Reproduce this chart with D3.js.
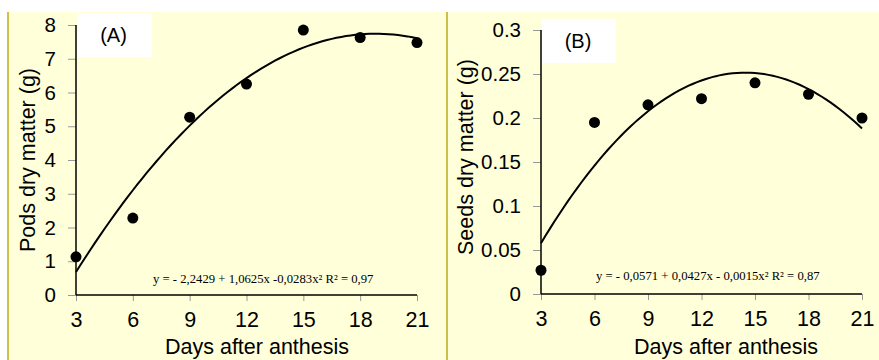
<!DOCTYPE html>
<html>
<head>
<meta charset="utf-8">
<script src="https://cdn.jsdelivr.net/npm/d3@7"></script>
<style>
  body { margin: 0; background: #fff; }
  svg { display: block; }
  .tick text { font-family: "Liberation Sans", Arial, sans-serif; }
</style>
</head>
<body>
<svg id="graph" width="879" height="360"></svg>
<script>
// data
var days = [3, 6, 9, 12, 15, 18, 21]
var podsDry = [1.13, 2.28, 5.27, 6.25, 7.85, 7.63, 7.48]
var seedsDry = [0.027, 0.195, 0.215, 0.222, 0.240, 0.227, 0.200]
var podsTicks = [0, 1, 2, 3, 4, 5, 6, 7, 8]
var seedsTicks = [0, 0.05, 0.1, 0.15, 0.2, 0.25, 0.3]
var podsEq = "y = - 2,2429 + 1,0625x -0,0283x² R² = 0,97"
var seedsEq = "y = - 0,0571 + 0,0427x - 0,0015x² R² = 0,87"

var svg = d3.select("#graph")
var bg = "#ffffd9"
var rim = "#bfa81a"

// least squares 2nd order trend line (same as the spreadsheet's polynomial trendline)
function quadFit(xs, ys) {
  var n = xs.length, sx = 0, sx2 = 0, sx3 = 0, sx4 = 0, sy = 0, sxy = 0, sx2y = 0
  for (var i = 0; i < n; i++) {
    var x = xs[i], y = ys[i]
    sx += x; sx2 += x * x; sx3 += x * x * x; sx4 += x * x * x * x
    sy += y; sxy += x * y; sx2y += x * x * y
  }
  var m = [[n, sx, sx2, sy], [sx, sx2, sx3, sxy], [sx2, sx3, sx4, sx2y]]
  for (var k = 0; k < 3; k++) {
    for (var r = k + 1; r < 3; r++) {
      var f = m[r][k] / m[k][k]
      for (var j = k; j < 4; j++) m[r][j] -= f * m[k][j]
    }
  }
  var c = [0, 0, 0]
  for (var r2 = 2; r2 >= 0; r2--) {
    var s = m[r2][3]
    for (var j2 = r2 + 1; j2 < 3; j2++) s -= m[r2][j2] * c[j2]
    c[r2] = s / m[r2][r2]
  }
  return c
}

function drawPanel(opt) {
  var g = svg.append("g")
  g.append("rect").attr("x", opt.left).attr("y", 12).attr("width", opt.right - opt.left).attr("height", 348).style("fill", bg)
  g.append("line").attr("x1", opt.left).attr("x2", opt.left).attr("y1", 12).attr("y2", 360).style("stroke", rim).style("stroke-width", 1.5)

  var x = d3.scaleLinear().domain([3, 21]).range(opt.xr)
  var y = d3.scaleLinear().domain(opt.yd).range(opt.yr)

  // label box
  g.append("rect").attr("x", opt.box[0]).attr("y", opt.box[1]).attr("width", opt.box[2]).attr("height", opt.box[3]).style("fill", "#fff")
  g.append("text").attr("x", opt.box[0] + opt.box[2] / 2 - 1).attr("y", opt.box[1] + opt.box[3] / 2 + 7)
    .attr("text-anchor", "middle").style("font-family", "Liberation Sans, Arial, sans-serif").style("font-size", "20px").text(opt.tag)

  var yAxis = g.append("g").attr("transform", "translate(" + opt.xr[0] + ",0)")
    .call(d3.axisLeft(y).tickValues(opt.ticks).tickSize(8).tickPadding(12).tickFormat(d3.format("")))
  yAxis.select(".domain").remove()
  yAxis.selectAll(".tick line").style("stroke", "#999")
  yAxis.selectAll(".tick text").style("font-size", "20.5px").style("fill", "#000")
  g.append("line").attr("x1", opt.xr[0]).attr("x2", opt.xr[0]).attr("y1", opt.yr[1]).attr("y2", opt.yr[0]).style("stroke", "#000").style("stroke-width", 1.5)

  var xAxis = g.append("g").attr("transform", "translate(0," + opt.yr[0] + ")")
    .call(d3.axisBottom(x).tickValues(days).tickSize(6).tickPadding(11))
  xAxis.select(".domain").remove()
  xAxis.selectAll(".tick line").style("stroke", "#999")
  xAxis.selectAll(".tick text").style("font-size", "21.5px").style("fill", "#000")
  g.append("line").attr("x1", opt.xr[0]).attr("x2", opt.xr[1]).attr("y1", opt.yr[0]).attr("y2", opt.yr[0]).style("stroke", "#000").style("stroke-width", 1.5)

  // trend line fitted to the points
  var c = quadFit(days, opt.vals)
  var xs = d3.range(3, 21.001, 0.25)
  var line = d3.line().x(function(d) { return x(d) }).y(function(d) { return y(c[0] + c[1] * d + c[2] * d * d) })
  g.append("path").datum(xs).attr("d", line).style("fill", "none").style("stroke", "#000").style("stroke-width", 2)

  g.selectAll("circle.pt").data(opt.vals).enter().append("circle").attr("class", "pt")
    .attr("cx", function(d, i) { return x(days[i]) }).attr("cy", function(d) { return y(d) }).attr("r", 5.5).style("fill", "#000")

  g.append("text").attr("x", opt.eq[0]).attr("y", opt.eq[1]).style("font-family", "Liberation Serif, Times New Roman, serif").style("font-size", "12.7px").text(opt.eqText)

  g.append("text").attr("x", opt.xt[0]).attr("y", opt.xt[1]).attr("text-anchor", "middle")
    .style("font-family", "Liberation Sans, Arial, sans-serif").style("font-size", "21.5px").text("Days after anthesis")
  g.append("text").attr("transform", "translate(" + opt.yt[0] + "," + opt.yt[1] + ") rotate(-90)").attr("text-anchor", "middle")
    .style("font-family", "Liberation Sans, Arial, sans-serif").style("font-size", "21.5px").text(opt.ytitle)
}

drawPanel({left: 8, right: 447, xr: [76, 417], yd: [0, 8], yr: [295, 25], ticks: podsTicks, vals: podsDry,
  box: [77, 13, 75, 44], tag: "(A)", eq: [153, 283], eqText: podsEq, xt: [257, 354], yt: [35, 160], ytitle: "Pods dry matter (g)"})
drawPanel({left: 447, right: 879, xr: [541, 862], yd: [0, 0.3], yr: [294, 30], ticks: seedsTicks, vals: seedsDry,
  box: [542, 19, 74, 44], tag: "(B)", eq: [596, 280], eqText: seedsEq, xt: [726, 354], yt: [473, 157], ytitle: "Seeds dry matter (g)"})
</script>
</body>
</html>
